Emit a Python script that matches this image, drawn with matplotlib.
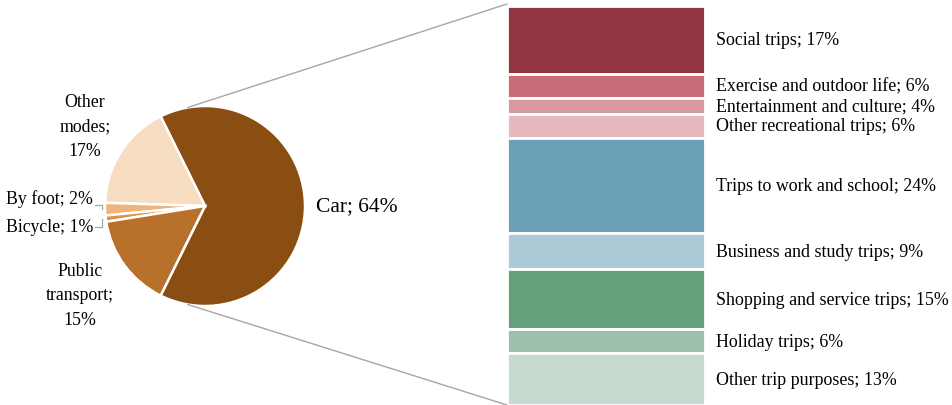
import numpy as np
import matplotlib
matplotlib.use("Agg")
import matplotlib.pyplot as plt
from matplotlib.patches import ConnectionPatch

plt.rcParams['font.family'] = ['Liberation Serif', 'DejaVu Serif']

# travel mode shares (pie)
modes = ["Car", "Other modes", "By foot", "Bicycle", "Public transport"]
mode_share = [64, 17, 2, 1, 15]
mode_colors = ["#8a4d12", "#f6dcc1", "#edb47c", "#e0913c", "#b8712b"]

# trip purposes by car (stacked bar)
purposes = ["Social trips", "Exercise and outdoor life", "Entertainment and culture",
            "Other recreational trips", "Trips to work and school", "Business and study trips",
            "Shopping and service trips", "Holiday trips", "Other trip purposes"]
purpose_share = [17, 6, 4, 6, 24, 9, 15, 6, 13]
purpose_colors = ["#933743", "#c96c77", "#d9979f", "#e6b8bf", "#6ba1b8", "#abc9d6",
                  "#669f7b", "#9ec0aa", "#c5dbcf"]

W, H = 953, 406
fig = plt.figure(figsize=(W / 100, H / 100), dpi=100)

def px_axes(x0, y0, x1, y1):
    # pixel box (top-left origin) -> figure axes
    return fig.add_axes([x0 / W, 1 - y1 / H, (x1 - x0) / W, (y1 - y0) / H])

# ---- pie ----
ax_pie = px_axes(105, 107, 305, 307)
start = -360 * mode_share[0] / sum(mode_share) / 2
wedges, _ = ax_pie.pie(mode_share, colors=mode_colors, startangle=start, counterclock=True,
                       radius=1, wedgeprops=dict(edgecolor="white", linewidth=1.8))
ax_pie.set_xlim(-1, 1)
ax_pie.set_ylim(-1, 1)
ax_pie.set_aspect("equal")
ax_pie.axis("off")

fs = 12.8
ax_pie.text(1.11, 0.0, f"{modes[0]}; {mode_share[0]}%", ha="left", va="center", fontsize=15.5, clip_on=False)
ax_pie.text(-1.2, 0.8, f"Other\nmodes;\n{mode_share[1]}%", ha="center", va="center",
            fontsize=fs, linespacing=1.6, clip_on=False)
ax_pie.text(-1.12, 0.08, f"{modes[2]}; {mode_share[2]}%", ha="right", va="center", fontsize=fs, clip_on=False)
ax_pie.text(-1.12, -0.21, f"{modes[3]}; {mode_share[3]}%", ha="right", va="center", fontsize=fs, clip_on=False)
ax_pie.text(-1.25, -0.89, f"Public\ntransport;\n{mode_share[4]}%", ha="center", va="center",
            fontsize=fs, linespacing=1.6, clip_on=False)

# leader lines for the thin slices (horizontal then vertical to the slice)
for w, ly in [(wedges[2], 0.01), (wedges[3], -0.21)]:
    a = np.deg2rad((w.theta1 + w.theta2) / 2)
    ey = np.sin(a)
    ax_pie.plot([-1.1, -1.03, -1.03], [ly, ly, ey], color="#a6a6a6", lw=0.9, clip_on=False)

# ---- stacked bar ----
ax_bar = px_axes(507, 7, 705, 406)
bottoms = np.concatenate([[0], np.cumsum(purpose_share)[:-1]])
ax_bar.bar(0, purpose_share, bottom=bottoms, width=1, color=purpose_colors,
           edgecolor="white", linewidth=2)
ax_bar.set_xlim(-0.5, 0.5)
ax_bar.set_ylim(sum(purpose_share), 0)
ax_bar.axis("off")
for name, val, b in zip(purposes, purpose_share, bottoms):
    ax_bar.text(0.555, b + val / 2, f"{name}; {val}%", ha="left", va="center", fontsize=12.9, clip_on=False)

# ---- connector lines ----
for ang, yb in [(100, -0.5), (-100, sum(purpose_share))]:
    a = np.deg2rad(ang)
    con = ConnectionPatch(xyA=(np.cos(a), np.sin(a)), coordsA=ax_pie.transData,
                          xyB=(-0.5, yb), coordsB=ax_bar.transData,
                          color="#a6a6a6", lw=1)
    fig.add_artist(con)

fig.savefig("out.png", dpi=100, facecolor="white")
